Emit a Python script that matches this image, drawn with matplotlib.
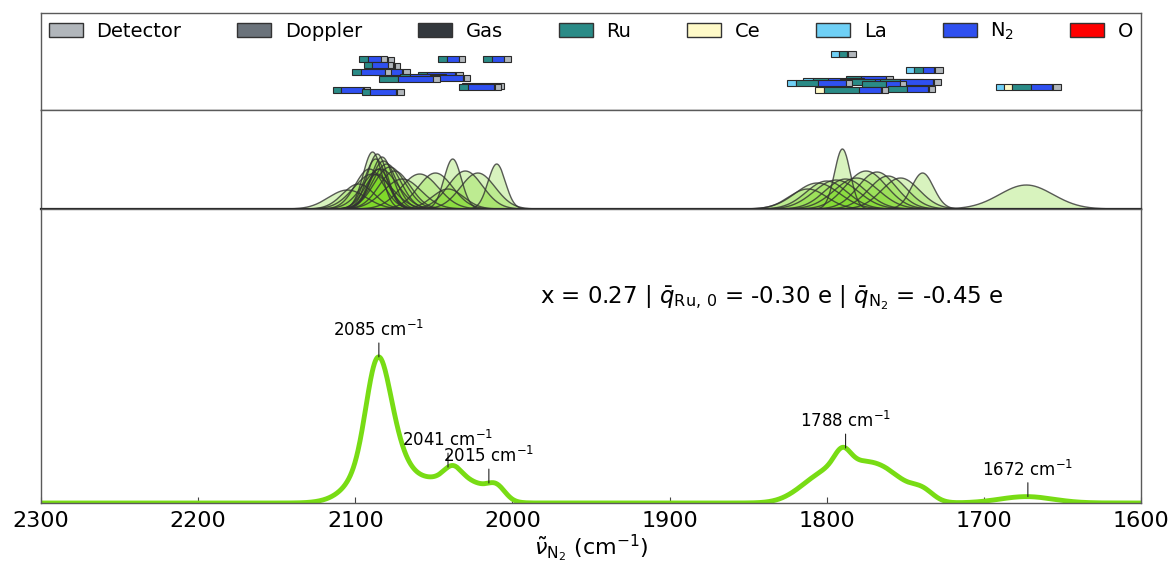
import numpy as np
import matplotlib
matplotlib.use('Agg')
import matplotlib.pyplot as plt
from matplotlib.patches import Patch

# ---------------- data ----------------
components = ['Detector', 'Doppler', 'Gas', 'Ru', 'Ce', 'La', 'N$_2$', 'O']
comp_colors = ['#b1b6bb', '#6b737b', '#33383d', '#2a8b87', '#fffac8', '#6fd0f6', '#2f50f0', '#ff0000']

# Gaussian modes (centre cm-1, width cm-1, height a.u.)
peak_centers = [2105, 2098, 2091, 2089, 2089, 2087, 2086, 2086, 2085, 2084, 2083, 2082, 2080, 2078,
                2075, 2070, 2059, 2049, 2041, 2038, 2030, 2022, 2010,
                1812, 1806, 1800, 1794, 1790, 1788, 1781, 1775, 1768, 1761, 1753, 1739, 1673]
peak_sigmas = [12, 10, 9, 6, 12, 7, 6.5, 8, 7, 11, 7, 8, 9, 10,
               10, 12, 12, 11, 10, 5.5, 11, 11, 5.5,
               12, 14, 13, 14, 5, 13, 14, 13, 12, 12, 12, 7, 17]
peak_heights = [19, 25, 40, 57, 35, 50, 55, 35, 40, 40, 52, 48, 45, 42,
                38, 30, 35, 36, 20, 50, 38, 36, 45,
                20, 26, 28, 29, 60, 30, 31, 38, 37, 33, 31, 36, 24]

# decomposition bars (row level, left edge in cm-1, segment widths in cm-1)
bar_level = [50, 51, 44, 45, 38, 38, 35, 33, 32, 31, 51, 51, 24, 23, 20, 18,
             56, 40, 31, 29, 28, 28, 27, 26, 21, 20, 23]
bar_start = [2093.8, 2097.6, 2090.6, 2094.4, 2087.5, 2102.1, 2060.1, 2071.5, 2052.5, 2084.9,
             2047.4, 2018.7, 2032.1, 2034.0, 2114.2, 2095.7,
             1797.3, 1749.5, 1787.7, 1815.1, 1791.5, 1766.1, 1825.3, 1777.5, 1761.0, 1807.4, 1692.3]
bar_la = [0, 0, 0, 0, 0, 0, 0, 0, 0, 0, 0, 0, 0, 0, 0, 0,
          5.1, 5.1, 0, 6.4, 0, 0, 5.7, 0, 0, 0, 5.1]
bar_ce = [0, 0, 0, 0, 0, 0, 0, 0, 0, 0, 0, 0, 0, 0, 0, 0,
          0, 0, 0, 0, 0, 0, 0, 0, 0, 5.7, 5.1]
bar_ru = [5.1, 5.7, 5.1, 5.1, 5.7, 5.7, 5.7, 6.4, 5.1, 12.1, 5.7, 5.7, 5.7, 5.7, 5.1, 5.1,
          5.1, 5.7, 9.5, 9.5, 22.3, 12.7, 14.0, 15.3, 12.1, 22.3, 12.1]
bar_n2 = [8.9, 8.3, 10.2, 10.2, 11.5, 15.3, 17.8, 19.1, 15.9, 22.3, 7.6, 7.6, 16.5, 16.5, 14.0, 16.5,
          0, 7.0, 15.9, 19.1, 26.7, 21.0, 17.8, 8.9, 13.4, 14.0, 13.4]
bar_gas = [0.6, 0, 0.6, 0, 0.6, 0, 0.6, 0, 0.6, 0, 0, 0, 0.6, 0.6, 0.6, 0.6,
           0.6, 0.6, 0, 0, 0, 0.6, 0, 0, 0.6, 0.6, 0.6]
bar_det = [3.8, 3.8, 3.2, 3.2, 4.5, 3.8, 4.5, 3.8, 3.8, 4.5, 3.8, 4.5, 3.8, 3.8, 3.8, 4.5,
           5.1, 5.1, 4.5, 3.8, 3.8, 4.5, 3.8, 3.8, 3.8, 3.8, 5.1]

label_freqs = [2085, 2041, 2015, 1788, 1672]

# ---------------- figure ----------------
fig = plt.figure(figsize=(11.74, 5.63), dpi=100)
W, H = 1174.0, 563.0
L, R = 41 / W, 1141 / W
ax_top = fig.add_axes([L, 1 - 110 / H, R - L, 97 / H])
ax_mid = fig.add_axes([L, 1 - 209 / H, R - L, 99 / H], sharex=ax_top)
ax_bot = fig.add_axes([L, 1 - 503 / H, R - L, 294 / H], sharex=ax_top)

spine_col = '#5a5a5a'
for a in (ax_top, ax_mid, ax_bot):
    for s in a.spines.values():
        s.set_color(spine_col)
        s.set_linewidth(1.0)
    a.set_yticks([])

ax_bot.set_xlim(2300, 1600)

# ---- top: decomposition bars
seg_cols = [comp_colors[5], comp_colors[4], comp_colors[3], comp_colors[6], comp_colors[2], comp_colors[0]]
for i in range(len(bar_start)):
    widths = [bar_la[i], bar_ce[i], bar_ru[i], bar_n2[i], bar_gas[i], bar_det[i]]
    cum = 0.0
    for w, c in zip(widths, seg_cols):
        if w <= 0:
            continue
        ax_top.barh(bar_level[i], w, left=bar_start[i] - cum - w, height=6,
                    color=c, edgecolor='#2a2a2a', linewidth=0.8, zorder=2 + i * 0.01)
        cum += w
ax_top.set_ylim(0, 97)
ax_top.tick_params(axis='x', which='both', bottom=False, labelbottom=False)

handles = [Patch(facecolor=c, edgecolor='#333333', linewidth=1) for c in comp_colors]
ax_top.legend(handles, components, ncol=8, loc='upper left', mode='expand',
              bbox_to_anchor=(0.0, 0.55, 1.0, 0.45), frameon=False, fontsize=14,
              borderaxespad=0.0, handlelength=1.75, handleheight=0.7, handletextpad=0.7)

# ---- middle: individual modes
xg = np.linspace(1600, 2300, 2801)
spectrum = np.zeros_like(xg)
for c, s, h in zip(peak_centers, peak_sigmas, peak_heights):
    y = h * np.exp(-(xg - c) ** 2 / (2 * s ** 2))
    spectrum += y
    m = y > 0.02
    ax_mid.fill_between(xg[m], 0, y[m], facecolor='#7fd92a', alpha=0.3, linewidth=0)
    ax_mid.plot(xg[m], y[m], color='#333333', lw=1.0, alpha=0.8)
ax_mid.set_ylim(0, 99)
ax_mid.tick_params(axis='x', which='both', bottom=False, labelbottom=False)
ax_mid.spines['bottom'].set_color('#222222')
ax_mid.spines['bottom'].set_linewidth(1.6)

# ---- bottom: total spectrum
ax_bot.plot(xg, spectrum, color='#78dc14', lw=3.5, solid_capstyle='round')
ax_bot.set_ylim(0, spectrum.max() / 0.497)
ax_bot.set_xticks([2300, 2200, 2100, 2000, 1900, 1800, 1700, 1600])
ax_bot.tick_params(axis='x', direction='in', length=4, labelsize=16, pad=6, color='#444444')
ax_bot.set_xlabel(r'$\tilde{\nu}_{\mathrm{N_2}}$ (cm$^{-1}$)', fontsize=16, labelpad=1)

for f in label_freqs:
    yv = np.interp(f, xg, spectrum)
    ax_bot.annotate(f'{f} cm$^{{-1}}$', xy=(f, yv), xytext=(0, 12), textcoords='offset points',
                    ha='center', va='bottom', fontsize=12,
                    arrowprops=dict(arrowstyle='-', lw=0.8, color='#222222', shrinkA=0, shrinkB=0))

ax_bot.text(0.4536, 0.697,
            r'x = 0.27 | $\bar{q}_{\mathrm{Ru,\,0}}$ = -0.30 e | $\bar{q}_{\mathrm{N_2}}$ = -0.45 e',
            transform=ax_bot.transAxes, ha='left', va='center', fontsize=16.5)

fig.savefig('out.png', dpi=100)
